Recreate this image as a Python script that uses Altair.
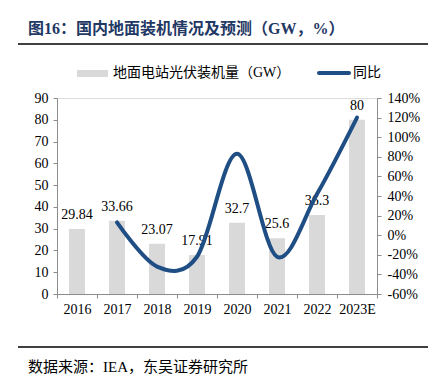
import altair as alt
import pandas as pd

years = ["2016", "2017", "2018", "2019", "2020", "2021", "2022", "2023E"]
capacity = [29.84, 33.66, 23.07, 17.91, 32.7, 25.6, 36.3, 80]
yoy = [None, 13, -32, -22, 83, -22, 42, 120]
left_ticks = [0, 10, 20, 30, 40, 50, 60, 70, 80, 90]
right_ticks = [-60, -40, -20, 0, 20, 40, 60, 80, 100, 120, 140]

title_text = "图16：国内地面装机情况及预测（GW，%）"
legend_bar = "地面电站光伏装机量（GW）"
legend_line = "同比"
source_text = "数据来源：IEA，东吴证券研究所"

SERIF = "Liberation Serif, Noto Sans CJK SC"
GREY = "#D9D9D9"
BLUE = "#1F4E84"
AXIS = "#8C8C8C"

bars_df = pd.DataFrame({"year": years, "cap": capacity,
                        "label": [str(v) for v in capacity]})
line_df = pd.DataFrame({"year": years[1:], "yoy": yoy[1:]})
one = pd.DataFrame({"k": [0]})

x_enc = alt.X("year:N", sort=years,
              scale=alt.Scale(paddingInner=0, paddingOuter=0),
              axis=alt.Axis(title=None, labelAngle=0, tickBand="extent",
                            tickSize=4, labelPadding=4, domainColor=AXIS,
                            tickColor=AXIS, labelFont=SERIF, labelFontSize=14,
                            labelColor="#000000", labelOverlap=False))

y_left = alt.Y("cap:Q", scale=alt.Scale(domain=[0, 90]),
               axis=alt.Axis(title=None, values=left_ticks, grid=False,
                             tickSize=4, labelPadding=5, domainColor=AXIS,
                             tickColor=AXIS, labelFont=SERIF, labelFontSize=14,
                             labelColor="#000000", labelOverlap=False))

bar_layer = alt.Chart(bars_df).encode(x=x_enc, y=y_left)
bars = bar_layer.mark_bar(color=GREY, size=16)
labels = bar_layer.mark_text(
    baseline="alphabetic", dy=-10, font=SERIF, fontSize=14, color="#000000"
).encode(text="label:N")

line = alt.Chart(line_df).mark_line(
    interpolate="cardinal", tension=0, strokeWidth=4, color=BLUE,
    strokeCap="round"
).encode(
    x=x_enc,
    y=alt.Y("yoy:Q", scale=alt.Scale(domain=[-60, 140]),
            axis=alt.Axis(title=None, orient="right", values=right_ticks,
                          grid=False, tickSize=4, labelPadding=6,
                          labelExpr="datum.value + '%'", domainColor=AXIS,
                          tickColor=AXIS, labelFont=SERIF, labelFontSize=14,
                          labelColor="#000000", labelOverlap=False)),
)

base = alt.Chart(one)
title = base.mark_text(align="left", baseline="middle", font=SERIF,
                       fontSize=16, fontWeight="bold", color="#1F3864").encode(
    x=alt.value(-29), y=alt.value(-69), text=alt.value(title_text))
title_rule = base.mark_rule(color="#000000", strokeWidth=1.5).encode(
    x=alt.value(-39), x2=alt.value(371), y=alt.value(-54))
leg_rect = base.mark_rect(color=GREY).encode(
    x=alt.value(20), x2=alt.value(51), y=alt.value(-28), y2=alt.value(-21))
leg_text1 = base.mark_text(align="left", baseline="middle", font=SERIF,
                           fontSize=14, color="#000000").encode(
    x=alt.value(56), y=alt.value(-25), text=alt.value(legend_bar))
leg_line = base.mark_rule(color=BLUE, strokeWidth=4, strokeCap="round").encode(
    x=alt.value(262), x2=alt.value(292), y=alt.value(-25))
leg_text2 = base.mark_text(align="left", baseline="middle", font=SERIF,
                           fontSize=14, color="#000000").encode(
    x=alt.value(296), y=alt.value(-25), text=alt.value(legend_line))
foot_rule = base.mark_rule(color="#000000", strokeWidth=1.5).encode(
    x=alt.value(-39), x2=alt.value(371), y=alt.value(249))
foot_text = base.mark_text(align="left", baseline="middle", font=SERIF,
                           fontSize=15, color="#000000").encode(
    x=alt.value(-29), y=alt.value(269), text=alt.value(source_text))

chart = alt.layer(
    alt.layer(bars, labels), line,
    title, title_rule, leg_rect, leg_text1, leg_line, leg_text2,
    foot_rule, foot_text,
).resolve_scale(y="independent").properties(
    width=320, height=196,
    autosize=alt.AutoSizeParams(type="none"),
    padding={"left": 49, "top": 90, "right": 51, "bottom": 80},
).configure_view(strokeWidth=0).configure(background="white")

chart.save("out.html", embed_options={"renderer": "svg", "actions": False})
